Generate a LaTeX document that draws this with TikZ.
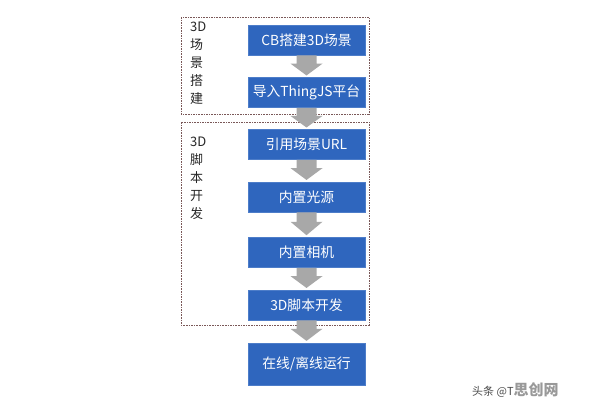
\documentclass[tikz,border=0pt]{standalone}
\usepackage{fontspec}
\setmainfont{Noto Sans CJK SC}
\newfontfamily\cjk{Noto Sans CJK SC}
\usetikzlibrary{calc}
\definecolor{boxblue}{HTML}{2F66BE}
\definecolor{boxedge}{HTML}{4D7DC9}
\definecolor{arrowgray}{HTML}{A8A8A8}
\definecolor{framecol}{HTML}{7A5858}
\tikzset{
  stepbox/.style={rectangle, fill=boxblue, draw=boxedge, line width=0.6pt,
    minimum width=117pt, minimum height=30pt, inner sep=0pt,
    text=white, font=\cjk\fontsize{13.8}{16}\selectfont},
  framebox/.style={draw=framecol, line width=0.9pt, dash pattern=on 1.6pt off 1pt},
  sidelabel/.style={anchor=north west, align=left, inner sep=0pt,
    text=black!85, font=\cjk\fontsize{13}{18}\selectfont}
}
\newcommand\blockarr[2]{%
  \fill[arrowgray]
    ($(#1.south)+(-10pt,0)$) --
    ($(#1.south)!0.38!(#2.north)+(-10pt,0)$) --
    ($(#1.south)!0.38!(#2.north)+(-16pt,0)$) --
    ($(#1.south)!0.92!(#2.north)$) --
    ($(#1.south)!0.38!(#2.north)+(16pt,0)$) --
    ($(#1.south)!0.38!(#2.north)+(10pt,0)$) --
    ($(#1.south)+(10pt,0)$) -- cycle;}
\begin{document}
\begin{tikzpicture}[x=1pt,y=-1pt]
  \fill[white] (0,0) rectangle (596,410);
  \useasboundingbox (0,0) rectangle (596,410);

  % frames
  \draw[framebox] (181,17) rectangle (369,114);
  \draw[framebox] (181,122) rectangle (369,325);

  \node[sidelabel] (l1) at (190,22) {3D\\场\\景\\搭\\建};
  \node[sidelabel] (l2) at (190,137) {3D\\脚\\本\\开\\发};

  % boxes
  \node[stepbox] (b1) at (306.5,40)    {CB搭建3D场景};
  \node[stepbox] (b2) at (306.5,92.5)  {导入ThingJS平台};
  \node[stepbox] (b3) at (306.5,144.5) {引用场景URL};
  \node[stepbox] (b4) at (306.5,197)   {内置光源};
  \node[stepbox] (b5) at (306.5,252.5) {内置相机};
  \node[stepbox] (b6) at (306.5,305)   {3D脚本开发};
  \node[stepbox, minimum height=42pt] (b7) at (306.5,364) {在线/离线运行};

  % arrows
  \blockarr{b1}{b2}
  \blockarr{b2}{b3}
  \blockarr{b3}{b4}
  \blockarr{b4}{b5}
  \blockarr{b5}{b6}
  \blockarr{b6}{b7}

  % watermark
  \node[anchor=west, inner sep=0pt, text=black!70, font=\cjk\fontsize{11}{12}\selectfont] (wm)
    at (472,390) {头条 @T\textcolor{black!40}{\fontsize{15}{16}\selectfont\bfseries 思创网}};
\end{tikzpicture}
\end{document}
